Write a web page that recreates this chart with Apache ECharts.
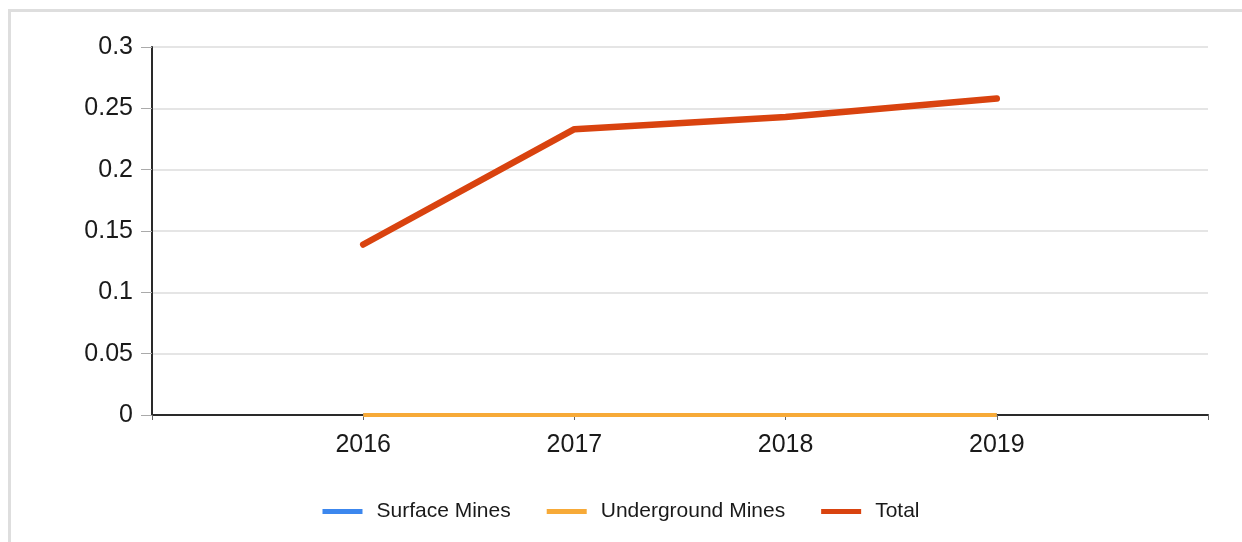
<!DOCTYPE html>
<html>
<head>
<meta charset="utf-8">
<script src="https://cdn.jsdelivr.net/npm/echarts@6/dist/echarts.min.js"></script>
<style>
html,body{margin:0;padding:0;background:#fff;overflow:hidden;}
#frame{position:absolute;left:8px;top:9px;width:1300px;height:600px;border-left:3px solid #dedede;border-top:3px solid #dedede;}
#chart{position:absolute;left:0;top:0;width:1242px;height:542px;}
</style>
</head>
<body>
<div id="frame"></div>
<div id="chart"></div>
<script>
const years = [2016, 2017, 2018, 2019];
const seriesNames = ['Surface Mines', 'Underground Mines', 'Total'];
const surfaceMines = [0, 0, 0, 0];
const undergroundMines = [0, 0, 0, 0];
const total = [0.139, 0.233, 0.243, 0.258];
const yTicks = [0, 0.05, 0.1, 0.15, 0.2, 0.25, 0.3];

const colors = ['#3c87ee', '#f7aa38', '#d9430f'];
const font = 'Liberation Sans, Arial, sans-serif';
const pairs = arr => years.map((y, i) => [y, arr[i]]);

const chart = echarts.init(document.getElementById('chart'));
chart.setOption({
  animation: false,
  color: colors,
  grid: {left: 152, right: 34, top: 47, bottom: 127, containLabel: false},
  xAxis: {
    type: 'value', min: 2015, max: 2020, interval: 1,
    axisLine: {show: true, lineStyle: {color: '#2a2a2a', width: 2}},
    axisTick: {show: true, length: 5, lineStyle: {color: '#666'}},
    splitLine: {show: false},
    axisLabel: {
      fontFamily: font, fontSize: 25, color: '#1a1a1a', margin: 18,
      formatter: v => (years.indexOf(v) >= 0 ? String(v) : '')
    }
  },
  yAxis: {
    type: 'value', min: yTicks[0], max: yTicks[yTicks.length - 1], interval: 0.05,
    axisLine: {show: true, lineStyle: {color: '#2a2a2a', width: 2}},
    axisTick: {show: true, length: 11, lineStyle: {color: '#aaa'}},
    splitLine: {show: true, lineStyle: {color: '#dcdcdc', width: 1.5}},
    axisLabel: {fontFamily: font, fontSize: 25, color: '#1a1a1a', margin: 19}
  },
  legend: {
    bottom: 15, left: 'center', itemGap: 36, itemWidth: 40, itemHeight: 5,
    icon: 'rect',
    textStyle: {fontFamily: font, fontSize: 21, color: '#1a1a1a', padding: [0, 0, 0, 9]},
    data: seriesNames
  },
  series: [
    {name: seriesNames[0], type: 'line', data: pairs(surfaceMines), showSymbol: false, lineStyle: {width: 4, color: colors[0]}, z: 3},
    {name: seriesNames[1], type: 'line', data: pairs(undergroundMines), showSymbol: false, lineStyle: {width: 4, color: colors[1]}, z: 4},
    {name: seriesNames[2], type: 'line', data: pairs(total), showSymbol: false, lineStyle: {width: 6.5, color: colors[2], cap: 'round', join: 'round'}, z: 5}
  ]
});
</script>
</body>
</html>
